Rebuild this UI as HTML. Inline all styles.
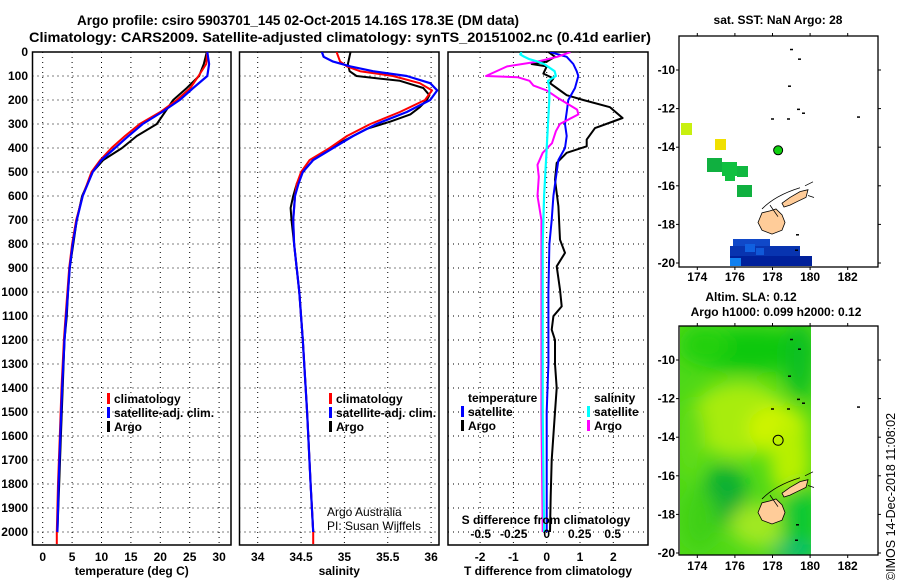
<!DOCTYPE html>
<html><head><meta charset="utf-8"><style>
html,body{margin:0;padding:0;background:#fff}
svg{display:block;font-family:"Liberation Sans",Arial,sans-serif}
.b{font-weight:bold;font-size:12px}
</style></head><body>
<svg id="fig" width="900" height="580" viewBox="0 0 900 580" xmlns="http://www.w3.org/2000/svg">
<rect width="900" height="580" fill="#fff"/>
<text x="298" y="25" text-anchor="middle" font-weight="bold" font-size="13.5">Argo profile: csiro 5903701_145 02-Oct-2015 14.16S 178.3E (DM data)</text>
<text x="340" y="42" text-anchor="middle" font-weight="bold" font-size="13.5" textLength="622" lengthAdjust="spacingAndGlyphs">Climatology: CARS2009. Satellite-adjusted climatology: synTS_20151002.nc (0.41d earlier)</text>
<g id="p1"></g>
<g id="p2"></g>
<g id="p3"></g>
<g id="m1"></g>
<g id="m2"></g>
<text transform="translate(895,497) rotate(-90)" text-anchor="middle" font-size="12.5">©IMOS 14-Dec-2018 11:08:02</text>
</svg>
<script>
// ---- data ----
const depthTicks = [0,100,200,300,400,500,600,700,800,900,1000,1100,1200,1300,1400,1500,1600,1700,1800,1900,2000];
const tempTicks = [0,5,10,15,20,25,30];
const salTicks = [34,34.5,35,35.5,36];
const salTickLabels = ["34","34.5","35","35.5","36"];
const tdiffTicks = [-2,-1,0,1,2];
const sdiffTicks = [-0.5,-0.25,0,0.25,0.5];
const sdiffTickLabels = ["-0.5","-0.25","0","0.25","0.5"];

const argoTDepth = [0,50,100,150,200,250,300,350,400,450,500,600,700,800,900,1000,1100,1200,1400,1600,1800,2000];
const argoT = [27.9,27.4,26.6,24.5,22.2,20.8,19.4,16.0,13.5,10.3,8.5,6.7,5.8,5.2,4.6,4.3,4.1,3.7,3.4,3.1,2.8,2.5];
const climTDepth = [0,50,100,150,200,250,300,350,400,450,500,600,700,800,900,1000,1100,1200,1400,1600,1800,2000,2050];
const climT = [28.0,27.8,26.5,25.1,22.8,20.0,16.5,14.0,11.7,9.8,8.3,6.8,5.7,5.0,4.5,4.2,3.9,3.6,3.2,2.9,2.6,2.4,2.4];
const satTDepth = [0,50,100,150,200,250,300,350,400,450,500,600,700,800,900,1000,1100,1200,1400,1600,1800,2000];
const satT = [28.0,28.3,28.0,25.6,23.3,20.3,17.0,14.6,12.3,10.0,8.5,6.8,5.8,5.1,4.6,4.3,4.0,3.7,3.3,3.0,2.7,2.5];

const argoSDepth = [0,50,80,100,120,150,180,200,230,260,290,320,350,400,450,500,550,600,650,700,800,900,1000,1200,1500,1800,2000];
const argoS = [35.07,35.04,35.06,35.14,35.64,35.91,35.98,35.95,35.87,35.76,35.53,35.26,35.10,34.83,34.64,34.52,34.45,34.41,34.38,34.39,34.42,34.45,34.48,34.52,34.57,34.61,34.64];
const climSDepth = [0,40,60,80,100,130,160,200,250,300,350,400,450,500,550,600,700,800,900,1000,1200,1500,1800,2000,2050];
const climS = [34.91,34.95,35.03,35.18,35.56,35.87,36.01,35.93,35.64,35.30,35.03,34.83,34.60,34.50,34.45,34.43,34.41,34.42,34.45,34.48,34.52,34.57,34.61,34.64,34.64];
const satSDepth = [0,20,40,60,80,100,130,160,200,250,300,350,400,450,500,550,600,700,800,900,1000,1200,1500,1800,2000];
const satS = [34.74,34.76,34.87,35.07,35.33,35.72,35.99,36.07,35.99,35.72,35.37,35.10,34.87,34.64,34.52,34.47,34.43,34.41,34.42,34.45,34.48,34.52,34.57,34.61,34.64];

const argoDTDepth = [0,20,40,50,60,90,110,130,150,180,200,230,275,317,365,393,420,462,532,643,782,837,893,990,1060,1101,1157,1200,1300,1400,1500,1700,1850,2000];
const argoDT = [0.05,0.25,0,-0.45,0,-0.1,0.2,0.1,0.3,0.6,1.1,1.9,2.28,1.45,1.2,1.2,0.6,0.3,0.25,0.35,0.4,0.55,0.3,0.4,0.45,0.2,0.15,0.25,0.25,0.3,0.25,0.15,0.12,0.1];
const satDTDepth = [0,20,50,80,100,150,200,250,300,350,400,450,500,600,700,800,1000,1200,1300,1500,2000];
const satDT = [0.1,0.6,0.8,0.9,0.95,0.85,0.65,0.6,0.55,0.6,0.55,0.35,0.3,0.2,0.15,0.08,0.05,0.05,0.05,0.0,0.0];
const satDSDepth = [0,10,20,30,40,50,80,100,120,150,200,300,400,500,600,800,1000,1500,2000];
const satDS = [-0.19,-0.2,-0.17,-0.13,-0.07,-0.02,0.06,0.07,0.01,0.02,0.02,0.01,0.0,-0.01,-0.02,-0.03,-0.03,-0.03,-0.02];
const argoDSDepth = [0,20,40,60,100,105,120,140,160,190,210,240,260,280,300,330,380,420,470,520,600,700,800,1000,1200,1500,2000];
const argoDS = [0.18,0.08,-0.07,-0.3,-0.46,-0.22,-0.13,-0.1,0.0,0.08,0.14,0.23,0.24,0.17,0.1,0.07,0.04,-0.03,-0.07,-0.06,-0.07,-0.04,-0.04,-0.04,-0.04,-0.04,-0.03];

const lonTicks = [174,176,178,180,182];
const latTicks = [-10,-12,-14,-16,-18,-20];
const argoLon = 178.3, argoLat = -14.16;

// ---- helpers ----
const NS = "http://www.w3.org/2000/svg";
function mk(parent, tag, attrs, text){
  const e = document.createElementNS(NS, tag);
  for (const k in attrs) e.setAttribute(k, attrs[k]);
  if (text !== undefined) e.textContent = text;
  parent.appendChild(e); return e;
}
const PT = 52, PB = 545;
const yDepth = d => PT + d * 0.24;
const xT = v => 42.7 + v * 5.88;
const xS = v => 257.7 + (v - 34) * 86.7;
const xDT = v => 546.7 + v * 33.3;
const xDS = v => 546.7 + v * 132;

function panelFrame(g, x0, x1, id, xt, xf, xlabels, title){
  const cp = mk(g, 'clipPath', {id:'clip'+id});
  mk(cp, 'rect', {x:x0, y:PT, width:x1-x0, height:PB-PT});
  depthTicks.forEach(d => {
    const l = mk(g, 'line', {x1:x0, x2:x1, y1:yDepth(d), y2:yDepth(d), stroke:'#000', 'stroke-width':1, 'stroke-dasharray':'1,4'});
    
    
  });
  xt.forEach((v,i) => {
    const l = mk(g, 'line', {x1:xf(v), x2:xf(v), y1:PT, y2:PB, stroke:'#000', 'stroke-width':1, 'stroke-dasharray':'1,4'});
    
    
    const t = mk(g, 'text', {x:xf(v), y:561, 'text-anchor':'middle', class:'b'}, xlabels[i]);
    
    
  });
  const r = mk(g, 'rect', {x:x0, y:PT, width:x1-x0, height:PB-PT, fill:'none', stroke:'#000', 'stroke-width':1.5});
  
  
  if (title){
    const t = mk(g, 'text', {x:(x0+x1)/2, y:575, 'text-anchor':'middle', class:'b'}, title);
    
    
  }
}
function series(g, id, depths, vals, xf, color, name, w){
  const pts = depths.map((d,i) => xf(vals[i]).toFixed(1) + ',' + yDepth(d).toFixed(1)).join(' ');
  const p = mk(g, 'polyline', {points:pts, fill:'none', stroke:color, 'stroke-width':w||2, 'clip-path':'url(#clip'+id+')', 'stroke-linejoin':'round'});
  
  
}
function legend(g, x, y, color, label, name){
  const r = mk(g, 'rect', {x:x, y:y-10, width:3, height:11, fill:color});
  
  
  const t = mk(g, 'text', {x:x+7, y:y, class:'b'}, label);
  
  
}

// ---- panel 1 ----
const p1 = document.getElementById('p1');
panelFrame(p1, 32.5, 231, 1, tempTicks, xT, tempTicks.map(String), 'temperature (deg C)');
depthTicks.forEach(d => {
  const t = mk(p1, 'text', {x:28, y:yDepth(d)+4, 'text-anchor':'end', class:'b'}, String(d));
  
  
});
series(p1, 1, argoTDepth, argoT, xT, '#000', 'argo-temperature-line');
series(p1, 1, climTDepth, climT, xT, '#f00', 'climatology-temperature-line');
series(p1, 1, satTDepth, satT, xT, '#00f', 'satellite-temperature-line', 2.2);
legend(p1, 107, 403, '#f00', 'climatology', 'legend-climatology');
legend(p1, 107, 417, '#00f', 'satellite-adj. clim.', 'legend-satellite');
legend(p1, 107, 431, '#000', 'Argo', 'legend-argo');

// ---- panel 2 ----
const p2 = document.getElementById('p2');
panelFrame(p2, 239.5, 439, 2, salTicks, xS, salTickLabels, 'salinity');
series(p2, 2, argoSDepth, argoS, xS, '#000', 'argo-salinity-line');
series(p2, 2, climSDepth, climS, xS, '#f00', 'climatology-salinity-line');
series(p2, 2, satSDepth, satS, xS, '#00f', 'satellite-salinity-line', 2.2);
legend(p2, 329, 403, '#f00', 'climatology', 'legend-climatology');
legend(p2, 329, 417, '#00f', 'satellite-adj. clim.', 'legend-satellite');
legend(p2, 329, 431, '#000', 'Argo', 'legend-argo');
mk(p2, 'text', {x:327, y:516, 'font-size':12}, 'Argo Australia');
mk(p2, 'text', {x:327, y:530, 'font-size':12}, 'PI: Susan Wijffels');

// ---- panel 3 ----
const p3 = document.getElementById('p3');
panelFrame(p3, 448, 648, 3, tdiffTicks, xDT, tdiffTicks.map(String), 'T difference from climatology');
series(p3, 3, argoDTDepth, argoDT, xDT, '#000', 'argo-temperature-difference-line');
series(p3, 3, satDTDepth, satDT, xDT, '#00f', 'satellite-temperature-difference-line');
series(p3, 3, argoDSDepth, argoDS, xDS, '#f0f', 'argo-salinity-difference-line');
series(p3, 3, satDSDepth, satDS, xDS, '#0ff', 'satellite-salinity-difference-line', 2.2);
mk(p3, 'text', {x:468, y:402, class:'b'}, 'temperature');
legend(p3, 461, 416, '#00f', 'satellite', 'legend-t-satellite');
legend(p3, 461, 430, '#000', 'Argo', 'legend-t-argo');
mk(p3, 'text', {x:594, y:402, class:'b'}, 'salinity');
legend(p3, 587, 416, '#0ff', 'satellite', 'legend-s-satellite');
legend(p3, 587, 430, '#f0f', 'Argo', 'legend-s-argo');
mk(p3, 'text', {x:546, y:524, 'text-anchor':'middle', class:'b'}, 'S difference from climatology');
sdiffTicks.forEach((v,i) => {
  const t = mk(p3, 'text', {x:xDS(v), y:538, 'text-anchor':'middle', class:'b'}, sdiffTickLabels[i]);
  
  
});

// ---- maps ----
const MX0 = 679, MX1 = 878;
const mxLon = v => 697.3 + (v - 174) * 18.8;
function mapFrame(g, y0, y1, latY, labelY){
  const r = mk(g, 'rect', {x:MX0, y:y0, width:MX1-MX0, height:y1-y0, fill:'none', stroke:'#000', 'stroke-width':1.3});
  
  
  lonTicks.forEach(v => {
    const t = mk(g, 'text', {x:mxLon(v), y:labelY, 'text-anchor':'middle', class:'b'}, String(v));
    
    
    mk(g, 'line', {x1:mxLon(v), x2:mxLon(v), y1:y0-3, y2:y0, stroke:'#000'});
    mk(g, 'line', {x1:mxLon(v), x2:mxLon(v), y1:y1, y2:y1+3, stroke:'#000'});
  });
  latTicks.forEach(v => {
    const t = mk(g, 'text', {x:675, y:latY(v)+4, 'text-anchor':'end', class:'b'}, String(v));
    
    
    mk(g, 'line', {x1:MX0-3, x2:MX0, y1:latY(v), y2:latY(v), stroke:'#000'});
    mk(g, 'line', {x1:MX1, x2:MX1+3, y1:latY(v), y2:latY(v), stroke:'#000'});
  });
}
function islands(g, latY){
  const vl = [[758,-17.9],[762,-17.4],[770,-17.3],[776,-17.2],[782,-17.5],[785,-17.9],[782,-18.3],[772,-18.5],[762,-18.3]];
  const va = [[782,-16.9],[790,-16.6],[800,-16.3],[808,-16.2],[806,-16.6],[798,-16.8],[790,-17.0],[784,-17.1]];
  [vl, va].forEach((poly, i) => {
    const p = mk(g, 'polygon', {points:poly.map(q => q[0]+','+latY(q[1]).toFixed(1)).join(' '), fill:'#fc9', stroke:'#000', 'stroke-width':0.8});
    
    
  });
  const reef = mk(g, 'path', {d:`M762 ${latY(-17.2)} Q775 ${latY(-16.5)} 800 ${latY(-16.1)} M770 ${latY(-17)} L778 ${latY(-17.6)} M805 ${latY(-16)} l8 -4 M808 ${latY(-16.5)} l6 2`, fill:'none', stroke:'#000', 'stroke-width':0.8});
  
  [[790,-8.9],[798,-9.4],[788,-10.8],[771,-12.5],[787,-12.5],[797,-12],[802,-12.2],[857,-12.4],[796,-18.5],[795,-19.3]].forEach(q => {
    mk(g, 'rect', {x:q[0], y:latY(q[1]), width:3, height:1.5, fill:'#000'});
  });
}
// map 1: SST
const m1 = document.getElementById('m1');
const lat1 = v => 70 + (-10 - v) * 19.3;
mk(m1, 'text', {x:778, y:24, 'text-anchor':'middle', class:'b'}, 'sat. SST: NaN Argo: 28');
const sstCells = [[681,123,11,12,'#c8f010'],[715,139,11,11,'#f0e000'],[707,158,15,14,'#10b040'],[722,162,15,14,'#10c040'],[725,172,10,9,'#10c040'],[737,166,11,11,'#10b840'],[737,185,15,12,'#10b040'],
 [733,239,37,7,'#1048c8'],[730,246,70,10,'#0834b0'],[730,256,82,10,'#00209a'],[730,258,11,8,'#1080f0'],[745,244,10,8,'#1060e0'],[756,248,8,7,'#1058d8']];
sstCells.forEach(c => {
  const r = mk(m1, 'rect', {x:c[0], y:c[1], width:c[2], height:c[3], fill:c[4]});
  
  
});
islands(m1, lat1);
const d1 = mk(m1, 'circle', {cx:mxLon(argoLon), cy:lat1(argoLat), r:4.5, fill:'#10d010', stroke:'#000', 'stroke-width':1});


mapFrame(m1, 36, 267, lat1, 281);

// map 2: SLA
const m2 = document.getElementById('m2');
const lat2 = v => 360 + (-10 - v) * 19.3;
mk(m2, 'text', {x:751, y:301, 'text-anchor':'middle', class:'b'}, 'Altim. SLA: 0.12');
mk(m2, 'text', {x:776, y:316, 'text-anchor':'middle', class:'b'}, 'Argo h1000: 0.099 h2000: 0.12');
const defs = mk(m2, 'defs', {});
const f = mk(defs, 'filter', {id:'blur', x:'-50%', y:'-50%', width:'200%', height:'200%'});
mk(f, 'feGaussianBlur', {stdDeviation:9});
const cp = mk(defs, 'clipPath', {id:'slaclip'});
mk(cp, 'rect', {x:680, y:326, width:131, height:229});
const field = mk(m2, 'g', {'clip-path':'url(#slaclip)'});

mk(field, 'rect', {x:680, y:326, width:131, height:229, fill:'#4ed818'});
const blobs = mk(field, 'g', {filter:'url(#blur)'});
[[750,350,70,22,'#10c810'],[705,345,25,20,'#20d010'],[800,360,15,40,'#10c020'],[740,420,50,38,'#a8ec10'],[778,428,30,22,'#d0f400'],[790,460,20,40,'#b8f000'],
 [725,495,22,30,'#10b030'],[700,520,18,30,'#40d018'],[760,525,30,22,'#a0e820'],[800,520,20,35,'#10c830'],[795,552,25,8,'#00b880'],[690,440,15,40,'#60dc18']].forEach(b => {
  mk(blobs, 'ellipse', {cx:b[0], cy:b[1], rx:b[2], ry:b[3], fill:b[4]});
});
islands(m2, lat2);
const d2 = mk(m2, 'circle', {cx:mxLon(argoLon), cy:lat2(argoLat), r:5, fill:'none', stroke:'#000', 'stroke-width':1});


mapFrame(m2, 326, 555, lat2, 570);
</script>
</body></html>
